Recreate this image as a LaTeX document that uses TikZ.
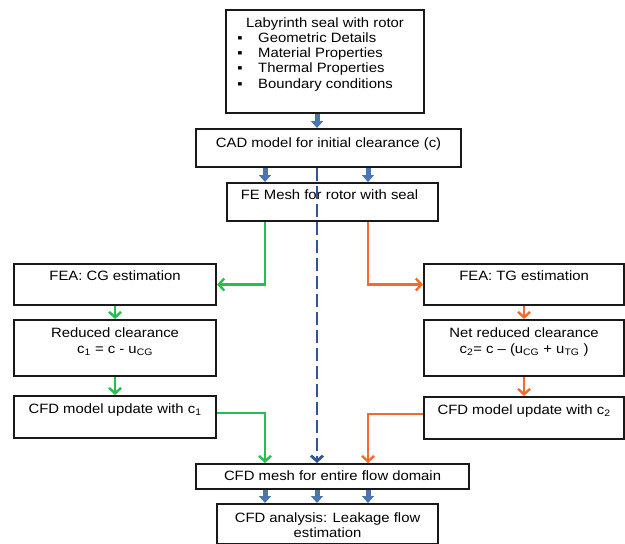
\documentclass[tikz,border=0pt]{standalone}
\usepackage{fontspec}
\setmainfont{Liberation Sans}[FakeStretch=1.1]
\usetikzlibrary{arrows.meta,calc}
\definecolor{bblue}{HTML}{4A76B0}
\definecolor{dblue}{HTML}{2F5597}
\definecolor{ggreen}{HTML}{22C04C}
\definecolor{oorange}{HTML}{F26A2E}
\tikzset{
  box/.style={draw=black!90, line width=2.1pt, anchor=north west, inner sep=0pt},
  txt/.style={anchor=base, inner sep=0pt, font=\fontsize{13.5}{15}\selectfont},
  ltxt/.style={txt, anchor=base west},
  barrow/.style={draw=bblue, line width=5pt, -{Triangle[width=12pt,length=7pt]}},
  garrow/.style={draw=ggreen, line width=2.4pt, -{Straight Barb[length=5.5pt,width=12pt]}},
  oarrow/.style={draw=oorange, line width=2.4pt, -{Straight Barb[length=5.5pt,width=12pt]}},
  darrow/.style={draw=dblue, line width=2.8pt, dash pattern=on 13pt off 5pt, -{Straight Barb[length=5.5pt,width=12pt]}},
}
\begin{document}
\begin{tikzpicture}[x=1pt,y=-1pt]
\useasboundingbox (0,0) rectangle (625,544);
% column coordinates
\coordinate (xL) at (265,0);
\coordinate (xM) at (317,0);
\coordinate (xR) at (368,0);
% boxes
\node[box, minimum width=198pt, minimum height=103pt] (lab) at (225,9) {};
\node[box, minimum width=265pt, minimum height=38pt] (cad) at (195,128) {};
\node[box, minimum width=211pt, minimum height=38pt] (fe) at (226,182) {};
\node[box, minimum width=202pt, minimum height=41pt] (cg) at (13,263) {};
\node[box, minimum width=202pt, minimum height=56pt] (red) at (13,319) {};
\node[box, minimum width=202pt, minimum height=42pt] (c1) at (13,395) {};
\node[box, minimum width=200pt, minimum height=41pt] (tg) at (423,263) {};
\node[box, minimum width=200pt, minimum height=56pt] (net) at (423,319) {};
\node[box, minimum width=200pt, minimum height=42pt] (c2) at (423,396) {};
\node[box, minimum width=273pt, minimum height=25pt] (mesh) at (195,463) {};
\node[box, minimum width=221pt, minimum height=40pt] (ana) at (216,503) {};
% texts
\node[txt] (labt) at ($(lab.north)+(0,18)$) {Labyrinth seal with rotor};
\node[txt] (b1) at (240,42.3) {▪};
\node[txt] (b2) at (240,57.6) {▪};
\node[txt] (b3) at (240,72.9) {▪};
\node[txt] (b4) at (240,88.2) {▪};
\node[ltxt] (l1) at (258,42.3) {Geometric Details};
\node[ltxt] (l2) at (258,57.6) {Material Properties};
\node[ltxt] (l3) at (258,72.9) {Thermal  Properties};
\node[ltxt] (l4) at (258,88.2) {Boundary conditions};
\node[txt] (cadt) at ($(cad.north)+(0,19)$) {CAD model for initial clearance (c)};
\node[txt] (fet) at ($(fe.north)+(-3,17)$) {FE Mesh for rotor with seal};
\node[txt] (cgt) at ($(cg.north)+(0,17)$) {FEA: CG estimation};
\node[txt] (redt) at ($(red.north)+(0,18)$) {Reduced clearance};
\node[txt] (redf) at ($(red.north)+(0,34)$) {c\textsubscript{1} = c - u\textsubscript{CG}};
\node[txt] (c1t) at ($(c1.north)+(0,18)$) {CFD model update with c\textsubscript{1}};
\node[txt] (tgt) at ($(tg.north)+(0,17)$) {FEA: TG estimation};
\node[txt] (nett) at ($(net.north)+(0,18)$) {Net reduced clearance};
\node[txt] (netf) at ($(net.north)+(0,34)$) {c\textsubscript{2}= c – (u\textsubscript{CG} + u\textsubscript{TG} )};
\node[txt] (c2t) at ($(c2.north)+(0,18)$) {CFD model update with c\textsubscript{2}};
\node[txt] (mesht) at ($(mesh.north)+(0,17)$) {CFD mesh for entire flow domain};
\node[txt] (anat) at ($(ana.north)+(0,19)$) {CFD analysis: Leakage flow};
\node[txt] (anat2) at ($(ana.north)+(0,34)$) {estimation};
% block arrows
\draw[barrow] (lab.south -| xM) -- (cad.north -| xM);
\draw[barrow] (cad.south -| xL) -- (fe.north -| xL);
\draw[barrow] (cad.south -| xR) -- (fe.north -| xR);
\draw[barrow] (mesh.south -| xL) -- (ana.north -| xL);
\draw[barrow] (mesh.south -| xM) -- (ana.north -| xM);
\draw[barrow] (mesh.south -| xR) -- (ana.north -| xR);
% green branch
\draw[garrow] (fe.south -| xL) |- (cg.east);
\draw[garrow] (cg.south) -- (red.north);
\draw[garrow] (red.south) -- (c1.north);
\draw[garrow] ($(c1.east)+(0,-4)$) -| (mesh.north -| xL);
% orange branch
\draw[oarrow] (fe.south -| xR) |- (tg.west);
\draw[oarrow] (tg.south) -- (net.north);
\draw[oarrow] (net.south) -- (c2.north);
\draw[oarrow] ($(c2.west)+(0,-4)$) -| (mesh.north -| xR);
% dashed blue
\draw[darrow] (cad.south -| xM) -- (mesh.north -| xM);
\end{tikzpicture}
\end{document}
